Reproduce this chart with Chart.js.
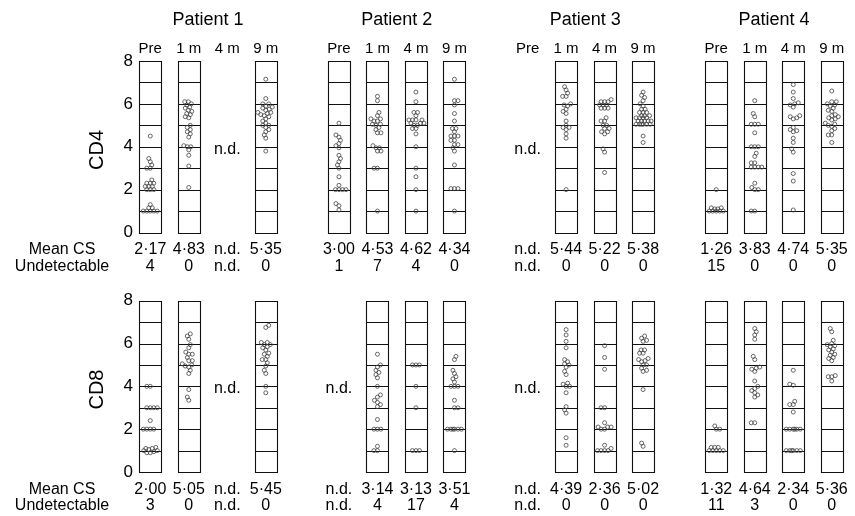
<!DOCTYPE html>
<html><head><meta charset="utf-8">
<script src="https://cdn.jsdelivr.net/npm/chart.js@4.4.0/dist/chart.umd.min.js"></script>
<style>
html,body{margin:0;padding:0;background:#fff;}
#wrap{position:relative;width:855px;height:516px;overflow:hidden;}
#c1{position:absolute;left:0;top:0;}
#c2{position:absolute;left:0;top:280px;}
</style></head><body>
<div id="wrap"><canvas id="c1" width="855" height="280"></canvas><canvas id="c2" width="855" height="236"></canvas></div>
<script>
const patients = ['Patient 1', 'Patient 2', 'Patient 3', 'Patient 4'];
const timepoints = ['Pre', '1 m', '4 m', '9 m'];
const yTicks = [0, 1, 2, 3, 4, 5, 6, 7, 8];
const rowLabels = ['CD4', 'CD8'];
const statLabels = ['Mean CS', 'Undetectable'];

// CD4 cytotoxicity scores: [Pre, 1 m, 4 m, 9 m]; null = not done
const cd4Patient1 = [
  [4.5, 3.45, 3.3, 3.15, 3.0, 3.0, 2.45, 2.3, 2.3, 2.3, 2.15, 2.15, 2.15, 2.0, 2.0, 2.0, 1.3, 1.15, 1.15, 1.0, 1.0, 1.0, 1.0, 1.0],
  [6.1, 6.1, 6.0, 5.95, 5.85, 5.8, 5.7, 5.65, 5.55, 5.5, 5.4, 5.35, 5.0, 4.9, 4.8, 4.7, 4.6, 4.45, 4.05, 4.0, 4.0, 3.85, 3.6, 3.1, 2.1],
  null,
  [7.15, 6.25, 6.0, 6.0, 5.9, 5.85, 5.8, 5.75, 5.7, 5.6, 5.6, 5.55, 5.5, 5.45, 5.4, 5.3, 5.2, 5.1, 5.0, 5.0, 4.9, 4.8, 4.7, 4.55, 4.4, 3.8]
];
const cd4Patient2 = [
  [5.1, 4.55, 4.45, 4.3, 4.15, 4.05, 3.95, 3.6, 3.45, 3.3, 3.15, 3.0, 2.6, 2.2, 2.0, 2.0, 2.0, 2.0, 1.35, 1.25, 1.05],
  [6.35, 6.15, 5.6, 5.45, 5.3, 5.3, 5.2, 5.2, 5.05, 5.05, 5.0, 4.9, 4.8, 4.65, 4.65, 4.05, 3.95, 3.95, 3.8, 3.8, 3.0, 3.0, 1.0],
  [6.55, 6.1, 5.6, 5.6, 5.45, 5.25, 5.25, 5.25, 5.25, 5.1, 5.1, 5.1, 5.0, 5.0, 4.85, 4.85, 4.6, 4.0, 3.0, 2.6, 2.0, 1.0],
  [7.15, 6.15, 6.15, 5.95, 5.55, 5.2, 4.85, 4.85, 4.7, 4.5, 4.5, 4.5, 4.3, 4.3, 4.1, 4.1, 3.95, 3.8, 3.15, 2.05, 2.05, 2.05, 1.0]
];
const cd4Patient3 = [
  null,
  [6.8, 6.65, 6.5, 6.35, 6.35, 6.0, 5.95, 5.9, 5.75, 5.65, 5.55, 5.2, 5.0, 4.9, 4.9, 4.8, 4.6, 4.4, 2.0],
  [6.2, 6.1, 6.1, 6.1, 5.95, 5.95, 5.95, 5.8, 5.8, 5.8, 5.35, 5.2, 5.2, 5.0, 5.0, 4.85, 4.85, 4.7, 4.7, 4.6, 3.9, 3.75, 2.8],
  [6.55, 6.4, 6.3, 6.15, 6.0, 5.9, 5.75, 5.75, 5.6, 5.6, 5.6, 5.45, 5.45, 5.45, 5.35, 5.35, 5.35, 5.35, 5.2, 5.2, 5.2, 5.2, 5.2, 5.05, 5.05, 5.05, 5.05, 5.05, 5.05, 4.5, 4.2]
];
const cd4Patient4 = [
  [2.0, 1.15, 1.15, 1.1, 1.1, 1.0, 1.0, 1.0, 1.0, 1.0],
  [6.15, 5.55, 5.4, 5.05, 5.05, 5.05, 4.65, 4.0, 4.0, 4.0, 3.7, 3.55, 3.25, 3.25, 3.05, 3.05, 3.05, 3.05, 2.3, 2.1, 2.0, 2.0, 1.0, 1.0],
  [6.9, 6.55, 6.25, 6.05, 6.0, 5.95, 5.85, 5.45, 5.4, 5.35, 5.3, 4.9, 4.8, 4.75, 4.7, 4.4, 4.2, 3.9, 3.75, 2.75, 2.4, 1.05],
  [6.6, 6.1, 6.1, 6.0, 5.95, 5.9, 5.8, 5.7, 5.65, 5.5, 5.45, 5.4, 5.35, 5.3, 5.25, 5.1, 5.05, 5.0, 4.95, 4.85, 4.75, 4.55, 4.55, 4.2]
];

// CD8 cytotoxicity scores
const cd8Patient1 = [
  [4.0, 4.0, 3.0, 3.0, 3.0, 3.0, 2.4, 2.0, 2.0, 2.0, 2.0, 1.15, 1.1, 1.1, 1.05, 1.0, 1.0, 0.95, 0.9, 0.9],
  [6.45, 6.35, 6.2, 5.95, 5.8, 5.6, 5.5, 5.5, 5.35, 5.2, 5.2, 5.05, 5.0, 4.95, 4.9, 4.75, 4.6, 3.85, 3.5, 3.35],
  null,
  [6.85, 6.75, 6.05, 6.05, 5.95, 5.95, 5.85, 5.8, 5.7, 5.55, 5.5, 5.4, 5.25, 5.25, 5.1, 4.95, 4.75, 4.6, 4.0, 3.7]
];
const cd8Patient2 = [
  null,
  [5.5, 5.0, 4.9, 4.75, 4.65, 4.55, 4.4, 4.0, 3.6, 3.5, 3.35, 3.25, 3.15, 3.05, 2.45, 2.0, 2.0, 2.0, 1.2, 1.0, 1.0],
  [5.0, 5.0, 5.0, 4.0, 3.0, 1.0, 1.0, 1.0],
  [5.4, 5.25, 4.75, 4.6, 4.45, 4.35, 4.2, 4.0, 4.0, 4.0, 3.35, 3.0, 3.0, 2.0, 2.0, 2.0, 2.0, 2.0, 2.0, 1.0]
];
const cd8Patient3 = [
  null,
  [6.65, 6.4, 6.1, 5.8, 5.25, 5.15, 5.05, 5.0, 4.9, 4.7, 4.55, 4.15, 4.1, 4.0, 4.0, 3.7, 3.05, 2.9, 2.75, 1.6, 1.25],
  [5.9, 5.35, 4.8, 3.0, 3.0, 2.3, 2.1, 2.1, 2.1, 2.0, 2.0, 1.25, 1.1, 1.0, 1.0, 1.0, 1.0],
  [6.35, 6.25, 6.15, 6.1, 5.7, 5.7, 5.55, 5.55, 5.3, 5.25, 5.2, 5.15, 5.0, 5.0, 4.85, 4.75, 4.7, 3.85, 1.35, 1.2]
];
const cd8Patient4 = [
  [2.15, 2.0, 2.0, 1.15, 1.15, 1.15, 1.0, 1.0, 1.0, 1.0, 1.0],
  [6.7, 6.55, 6.4, 6.2, 5.4, 5.25, 4.9, 4.85, 4.8, 4.7, 4.25, 4.0, 3.9, 3.8, 3.7, 3.6, 3.5, 2.3, 2.3],
  [4.75, 4.1, 4.05, 3.3, 3.15, 3.15, 2.8, 2.0, 2.0, 2.0, 2.0, 2.0, 2.0, 1.0, 1.0, 1.0, 1.0, 1.0, 1.0],
  [6.7, 6.55, 6.15, 6.0, 5.95, 5.9, 5.85, 5.75, 5.7, 5.6, 5.5, 5.45, 5.35, 5.3, 5.2, 4.5, 4.45, 4.45, 4.25]
];

// Summary rows (Patient 1..4, each Pre / 1 m / 4 m / 9 m)
const cd4MeanCS = ['2·17', '4·83', 'n.d.', '5·35', '3·00', '4·53', '4·62', '4·34', 'n.d.', '5·44', '5·22', '5·38', '1·26', '3·83', '4·74', '5·35'];
const cd4Undetectable = ['4', '0', 'n.d.', '0', '1', '7', '4', '0', 'n.d.', '0', '0', '0', '15', '0', '0', '0'];
const cd8MeanCS = ['2·00', '5·05', 'n.d.', '5·45', 'n.d.', '3·14', '3·13', '3·51', 'n.d.', '4·39', '2·36', '5·02', '1·32', '4·64', '2·34', '5·36'];
const cd8Undetectable = ['3', '0', 'n.d.', '0', 'n.d.', '4', '17', '4', 'n.d.', '0', '0', '0', '11', '3', '0', '0'];

const FONT = "'Liberation Sans', Arial, Helvetica, sans-serif";
const GAP = 4.9;         // patient group spacing in column units
const BOX_HALF = 0.286;  // half width of a column box
const X_MIN = -0.345, X_MAX = 18.044;
const PX_X = 38.5, PX_Y = 21.43, SEP = 3.4, MAX_OFF = 8;

// deterministic beeswarm placement (layout only, values untouched)
function dodge(vals) {
  const sorted = [...vals].sort((a, b) => a - b);
  const placed = [];
  const cands = [];
  for (let c = 0; c <= MAX_OFF; c += 0.5) { cands.push(c); if (c > 0) cands.push(-c); }
  let lastSign = 1;
  return sorted.map(v => {
    const py = v * PX_Y;
    let chosen = null, bestC = 0, bestD = -1;
    for (let i = 0; i < cands.length; i++) {
      let c = cands[i];
      if (c !== 0 && lastSign > 0) c = -c; // alternate side preference
      let md = Infinity;
      for (const p of placed) md = Math.min(md, Math.hypot(c - p[0], py - p[1]));
      if (md >= SEP) { chosen = c; break; }
      if (md > bestD) { bestD = md; bestC = c; }
    }
    if (chosen === null) chosen = bestC;
    if (chosen !== 0) lastSign = Math.sign(chosen);
    placed.push([chosen, py]);
    return { y: v, dx: chosen / PX_X };
  });
}

function makeRow(canvasId, rowIndex, rowData, means, undet, header, padTop, padBottom) {
  const pts = [];
  rowData.forEach((cols, p) => cols.forEach((vals, t) => {
    if (!vals) return;
    const cx = p * GAP + t;
    dodge(vals).forEach(d => pts.push({ x: cx + d.dx, y: d.y }));
  }));

  const boxes = {
    id: 'boxes',
    beforeDatasetsDraw(chart) {
      const { ctx, scales: { x, y } } = chart;
      ctx.save();
      ctx.strokeStyle = '#111';
      ctx.lineWidth = 1.1;
      ctx.fillStyle = '#000';
      ctx.font = '16px ' + FONT;
      ctx.textAlign = 'center';
      ctx.textBaseline = 'middle';
      const top = Math.round(y.getPixelForValue(8)) + 0.5;
      const bot = Math.round(y.getPixelForValue(0)) + 0.5;
      rowData.forEach((cols, p) => cols.forEach((vals, t) => {
        const cx = p * GAP + t;
        if (!vals) {
          ctx.fillText('n.d.', x.getPixelForValue(cx), y.getPixelForValue(3.88));
          return;
        }
        const l = Math.round(x.getPixelForValue(cx - BOX_HALF)) + 0.5;
        const r = Math.round(x.getPixelForValue(cx + BOX_HALF)) + 0.5;
        ctx.beginPath();
        yTicks.forEach(v => {
          if (v <= 0 || v >= 8) return;
          const yy = Math.round(y.getPixelForValue(v)) + 0.5;
          ctx.moveTo(l, yy); ctx.lineTo(r, yy);
        });
        ctx.rect(l, top, r - l, bot - top);
        ctx.stroke();
      }));
      ctx.restore();
    },
    afterDraw(chart) {
      const { ctx, chartArea, scales: { x, y } } = chart;
      ctx.save();
      ctx.fillStyle = '#000';
      ctx.textAlign = 'center';
      ctx.textBaseline = 'middle';
      if (header) {
        ctx.font = '18px ' + FONT;
        patients.forEach((name, p) => {
          ctx.fillText(name, x.getPixelForValue(p * GAP + 1.5), chartArea.top - 41);
        });
        ctx.font = '15px ' + FONT;
        patients.forEach((name, p) => timepoints.forEach((tp, t) => {
          ctx.fillText(tp, x.getPixelForValue(p * GAP + t), chartArea.top - 12);
        }));
      }
      // row label
      ctx.save();
      ctx.font = '20px ' + FONT;
      ctx.translate(97, y.getPixelForValue(3.85));
      ctx.rotate(-Math.PI / 2);
      ctx.fillText(rowLabels[rowIndex], 0, 0);
      ctx.restore();
      // summary rows
      ctx.font = '16px ' + FONT;
      const y1 = chartArea.bottom + 17.5, y2 = chartArea.bottom + 34;
      ctx.fillText(statLabels[0], 62, y1);
      ctx.fillText(statLabels[1], 62, y2);
      means.forEach((m, i) => {
        const p = Math.floor(i / 4), t = i % 4;
        const px = x.getPixelForValue(p * GAP + t);
        ctx.fillText(m, px, y1);
        ctx.fillText(undet[i], px, y2);
      });
      ctx.restore();
    }
  };

  new Chart(document.getElementById(canvasId), {
    type: 'scatter',
    data: {
      datasets: [{
        data: pts,
        pointRadius: 2.0,
        pointHoverRadius: 2.0,
        pointBorderWidth: 0.8,
        pointBorderColor: '#444',
        pointBackgroundColor: 'rgba(0,0,0,0)'
      }]
    },
    options: {
      responsive: false,
      animation: false,
      events: [],
      layout: { padding: { top: padTop, bottom: padBottom, left: 0, right: 10 } },
      plugins: { legend: { display: false }, tooltip: { enabled: false } },
      scales: {
        x: { type: 'linear', min: X_MIN, max: X_MAX, display: false },
        y: {
          min: 0, max: 8,
          afterFit(s) { s.width = 137; },
          afterBuildTicks(s) { s.ticks = yTicks.map(v => ({ value: v })); },
          grid: { display: false, drawTicks: false },
          border: { display: false },
          ticks: { padding: 4, color: '#000', font: { family: FONT, size: 17 }, callback: v => String(v) }
        }
      }
    },
    plugins: [boxes]
  });
}

makeRow('c1', 0, [cd4Patient1, cd4Patient2, cd4Patient3, cd4Patient4], cd4MeanCS, cd4Undetectable, true, 61, 47.5);
makeRow('c2', 1, [cd8Patient1, cd8Patient2, cd8Patient3, cd8Patient4], cd8MeanCS, cd8Undetectable, false, 20.7, 44);
</script>
</body></html>
